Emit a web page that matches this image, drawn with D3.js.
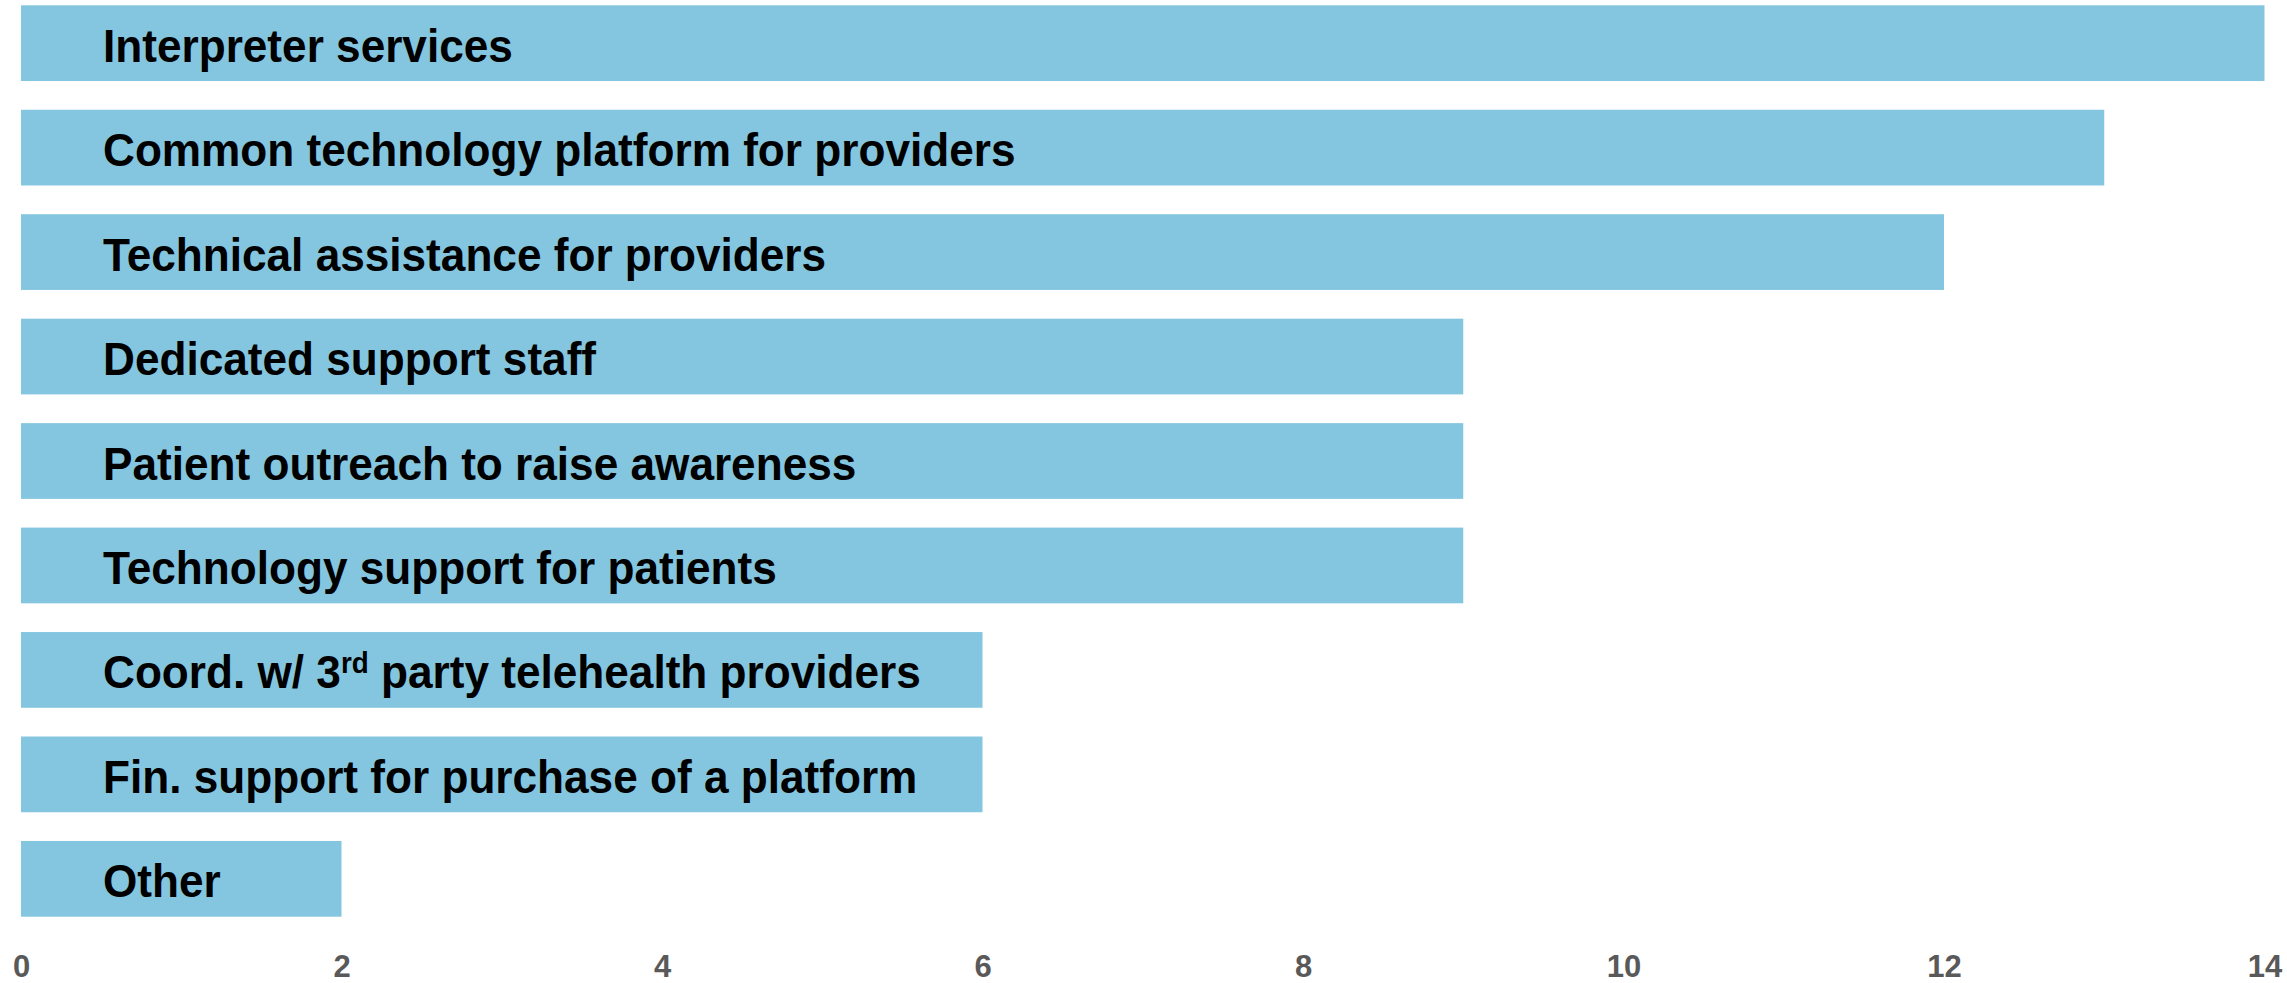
<!DOCTYPE html>
<html>
<head>
<meta charset="utf-8">
<script src="https://cdn.jsdelivr.net/npm/d3@7"></script>
<style>
  html, body { margin: 0; padding: 0; background: #ffffff; }
  svg { display: block; }
  .bar-label { font-family: "Liberation Sans", Arial, sans-serif; font-weight: bold; fill: #000000; }
  .tick-label { font-family: "Liberation Sans", Arial, sans-serif; font-weight: bold; fill: #595959; }
</style>
</head>
<body>
<svg id="chart"></svg>
<script>
// Support types requested, with number of responses
const categories = [
  "Interpreter services",
  "Common technology platform for providers",
  "Technical assistance for providers",
  "Dedicated support staff",
  "Patient outreach to raise awareness",
  "Technology support for patients",
  "Coord. w/ 3rd party telehealth providers",
  "Fin. support for purchase of a platform",
  "Other"
];
const counts = [14, 13, 12, 9, 9, 9, 6, 6, 2];
const tickValues = [0, 2, 4, 6, 8, 10, 12, 14];

const width = 2287, height = 983;
const svg = d3.select("#chart").attr("width", width).attr("height", height);

const x = d3.scaleLinear().domain([0, 14]).range([21, 2264.5]);
const y = d3.scaleBand().domain(categories).range([5.3, 916.7]).paddingInner(0.275).paddingOuter(0);

// bars
svg.append("g").selectAll("rect")
  .data(categories)
  .join("rect")
  .attr("x", x(0))
  .attr("y", d => y(d))
  .attr("width", (d, i) => x(counts[i]) - x(0))
  .attr("height", y.bandwidth())
  .attr("fill", "#84c6df");

// category labels inside the bars, set in a slightly condensed bold; "3rd" gets a superscript
const fontSize = 46;
const squeeze = 0.96;
const labels = svg.append("g").selectAll("text")
  .data(categories)
  .join("text")
  .attr("class", "bar-label")
  .attr("transform", d => `translate(103,${y(d) + y.bandwidth() / 2 + 18.5}) scale(${squeeze},1)`)
  .style("font-size", fontSize + "px");

labels.each(function(d) {
  const t = d3.select(this);
  const m = d.match(/^(.*\d)(st|nd|rd|th)( .*)$/);
  if (m) {
    t.append("tspan").text(m[1]);
    t.append("tspan").text(m[2]).attr("dy", -15).style("font-size", "29px");
    t.append("tspan").text(m[3]).attr("dy", 15);
  } else {
    t.text(d);
  }
});

// x axis tick labels
const axis = d3.axisBottom(x).tickValues(tickValues).tickSize(0).tickPadding(0);
const axisG = svg.append("g").attr("transform", "translate(0,955)").call(axis);
axisG.select(".domain").remove();
axisG.selectAll("text")
  .attr("class", "tick-label")
  .attr("dy", null)
  .attr("y", 21.5)
  .style("font-size", "31px");
</script>
</body>
</html>
